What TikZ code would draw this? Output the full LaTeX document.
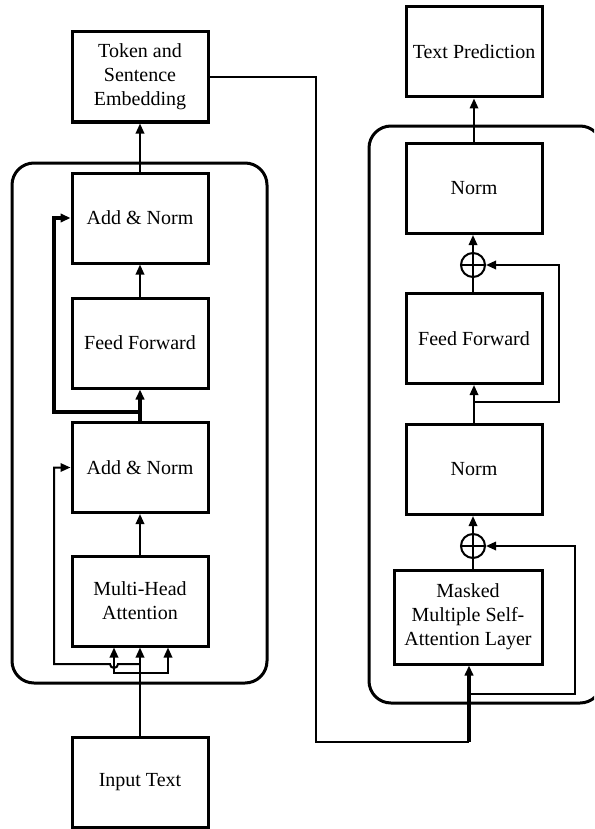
\documentclass[tikz,border=0pt]{standalone}
\usepackage{fontspec}
\setmainfont{Liberation Serif}
\usetikzlibrary{arrows.meta,calc}

\tikzset{
  block/.style={draw, line width=1.5pt, minimum width=68pt, minimum height=45pt,
    align=center, inner sep=1pt, font=\fontsize{10pt}{12pt}\selectfont},
  wideblock/.style={block, minimum width=74pt, minimum height=47pt},
  frame/.style={draw, line width=1.5pt, rounded corners=11pt},
  wire/.style={line width=1pt},
  busy/.style={line width=1.6pt},
  tip/.style={-{Triangle[length=5pt,width=4.2pt]}},
  adder/.style={circle, draw, line width=1pt, minimum size=12pt, inner sep=0pt,
    path picture={\draw[line width=1pt]
      (path picture bounding box.north) -- (path picture bounding box.south)
      (path picture bounding box.west) -- (path picture bounding box.east);}}
}

\begin{document}
\begin{tikzpicture}[x=0.5pt,y=-0.5pt]
\useasboundingbox (0,0) rectangle (594,829);
\clip (0,0) rectangle (594,829);

% encoder stack (left)
\draw[frame] (12,163) rectangle (267,683);
\node[block] (tok) at (140,77) {Token and\\Sentence\\Embedding};
\node[block] (an1) at (140,218) {Add \& Norm};
\node[block] (ff1) at (140,343) {Feed Forward};
\node[block] (an2) at (140,467.5) {Add \& Norm};
\node[block] (mha) at (140,601) {Multi-Head\\Attention};
\node[block] (inp) at (140,782) {Input Text};

\draw[wire,tip] (an1.north) -- (tok.south);
\draw[wire,tip] (ff1.north) -- (an1.south);
\draw[busy,tip] (an2.north) -- (ff1.south);
\draw[wire,tip] (mha.north) -- (an2.south);
\draw[wire,tip] (inp.north) -- (mha.south);

% residual around the feed-forward block
\coordinate (r1) at (140,412);
\coordinate (r1c) at (54,218);
\draw[busy,tip] (r1) -| (r1c) -- (an1.west);

% residual around the attention block, hopping over the query wire
\coordinate (r2c) at (54,467.5);
\draw[wire,tip] (140,664) -- (118,664) arc[start angle=0,end angle=180,radius=4] -- (54,664) -- (r2c) -- (an2.west);

% query / key / value fan-out
\draw[wire,tip] (140,673) -| ([xshift=-13pt]mha.south);
\draw[wire,tip] (140,673) -| ([xshift=14pt]mha.south);

% decoder stack (right)
\draw[frame] (369,126) rectangle (602,703);
\node[block] (pred) at (474,52) {Text Prediction};
\node[block] (nm1) at (474,188.5) {Norm};
\node[adder] (p1) at (473,265) {};
\node[block] (ff2) at (474,338.5) {Feed Forward};
\node[block] (nm2) at (474,469.5) {Norm};
\node[adder] (p2) at (473,546) {};
\node[wideblock] (msk) at (468,617) {Masked\\Multiple Self-\\Attention Layer};

\draw[wire,tip] (nm1.north) -- (pred.south);
\draw[wire,tip] (p1.north) -- (p1.north |- nm1.south);
\draw[wire] (p1.south) -- (p1.south |- ff2.north);
\draw[wire,tip] (nm2.north) -- (ff2.south);
\draw[wire,tip] (p2.north) -- (p2.north |- nm2.south);
\draw[wire] (p2.south) -- (p2.south |- msk.north);

% residual connections into the adders
\coordinate (d1) at (474,402);
\coordinate (d1c) at (559,402);
\draw[wire,tip] (d1) -- (d1c) |- (p1.east);
\coordinate (d2) at (469,694);
\coordinate (d2c) at (575,694);
\draw[wire,tip] (d2) -- (d2c) |- (p2.east);

% embedding fed into the decoder
\coordinate (e1) at (316,77);
\coordinate (e2) at (316,742);
\coordinate (e3) at (469,742);
\draw[wire] (tok.east) -- (e1) -- (e2) -- (e3);
\draw[busy,tip] (e3) -- (e3 |- msk.south);
\end{tikzpicture}
\end{document}
